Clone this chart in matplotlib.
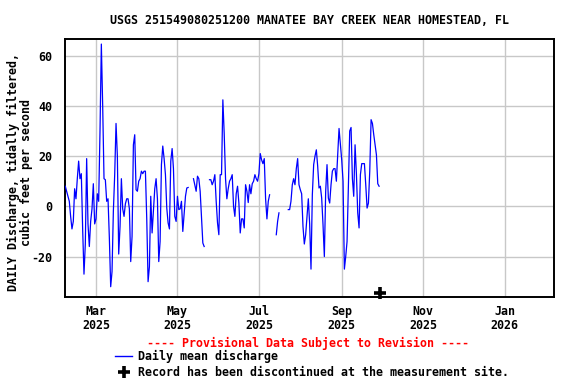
import matplotlib
matplotlib.use("Agg")
import matplotlib.pyplot as plt
import matplotlib.dates as mdates
from matplotlib.lines import Line2D
import numpy as np
import pandas as pd

nan = np.nan

# ---- data -------------------------------------------------------------
start_date = "2025-02-06"
discharge_cfs = [
    8, 6, 4, 2, -4, -9, -6, 7, 3, 11,
    18, 11, 13, -9, -27, -15, 19, -7, -16, -6,
    -1, 9, -7, -5, 5, 2, 30, 64.6, 40, 11,
    10.6, 2, 3, -12.6, -32, -26, -2, 12.6, 33, 20,
    -19, -8, 11, -1, -4, 1, 3, 3, -1, -22,
    -12, 24.5, 28.5, 6.6, 6, 10, 11, 14, 13, 14,
    14, -5, -30, -24, 4, -10.6, -2, 7, 11, 3,
    -22, -14, 16.6, 24, 19, 12.6, -0.7, -6.6, -9, 18,
    23, 15, -4, -6, 4, -1.3, -1, 2, -10, -3,
    4, 7.3, 7.5, nan, nan, nan, 11, 8.6, 6, 12,
    11, 6, -4.6, -14.6, -16, nan, nan, nan, 10.6, 10.6,
    8.6, 10, 12.6, 2, -6.6, -11.3, 12.6, 12.6, 42.4, 29,
    11, 3, 7, 10, 11, 12.6, 0, -4, 5, 8,
    1.3, -10.6, -5, -5, -8.6, 8.6, 6, 1.5, 8.6, 5,
    9, 10, 12.6, 11, 10, 13, 21, 18.5, 17, 19,
    3, -5, 2, 4.6, nan, nan, nan, nan, -11.3, -6,
    -2.6, nan, nan, nan, nan, nan, nan, -1.3, -1.3, 2,
    8.6, 11, 8.6, 15, 19, 8.6, 6.6, 5, -8, -15,
    -11.3, -4, 3, -7, -25, 4.6, 16.6, 20, 22.5, 16,
    7.3, 8, 3.3, -7.3, -20, 6, 16.6, 3.3, 1.3, 8.6,
    14, 15, 15, 10, 20.5, 31, 24.5, 18.5, 10, -25,
    -20, -14, 8.6, 30, 31.4, 11, 4, 24.5, 13, -2.6,
    -8.6, 12.6, 17, 17, 17, 8.6, -0.7, 1.3, 14, 34.5,
    33, 28.5, 24.5, 20.5, 9, 8,
]
discontinued_date = "2025-09-30"
discontinued_value = -34.6

tick_dates = ["2025-03-01", "2025-05-01", "2025-07-01", "2025-09-01", "2025-11-01", "2026-01-01"]
tick_labels = ["Mar\n2025", "May\n2025", "Jul\n2025", "Sep\n2025", "Nov\n2025", "Jan\n2026"]
y_ticks = [-20, 0, 20, 40, 60]

title = "USGS 251549080251200 MANATEE BAY CREEK NEAR HOMESTEAD, FL"
ylabel_lines = ["DAILY Discharge, tidally filtered,", "cubic feet per second"]

# ---- figure -----------------------------------------------------------
W, H = 576, 384
FONT = "DejaVu Sans Mono"
FS = 8.35
fig = plt.figure(figsize=(W / 100, H / 100), dpi=100)
L, R, T, B = 64.7, 554.3, 39.3, 297.0
ax = fig.add_axes([L / W, 1 - B / H, (R - L) / W, (B - T) / H])

dates = pd.date_range(start_date, periods=len(discharge_cfs), freq="D")
ax.plot(dates, discharge_cfs, color="#0000ff", lw=0.9, zorder=3)
ax.plot([pd.Timestamp(discontinued_date)], [discontinued_value], marker="+",
        ms=9, mew=2.6, color="black", linestyle="none", clip_on=False, zorder=4)

mar1 = mdates.date2num(pd.Timestamp("2025-03-01"))
ax.set_xlim(mar1 - 23.44, mar1 + 343.2)
ax.set_ylim(-36.1, 66.5)

ax.set_xticks([pd.Timestamp(d) for d in tick_dates])
ax.set_xticklabels(tick_labels, fontfamily=FONT, fontweight="bold", fontsize=FS, linespacing=1.1)
ax.set_yticks(y_ticks)
ax.set_yticklabels([str(v) for v in y_ticks], fontfamily=FONT, fontweight="bold", fontsize=FS)
ax.tick_params(axis="x", length=0, pad=6)
ax.tick_params(axis="y", length=0, pad=9)
ax.grid(True, color="#c8c8c8", lw=1.0, zorder=0)
ax.set_axisbelow(True)
for s in ax.spines.values():
    s.set_linewidth(1.4)
    s.set_color("black")

fig.text(309 / W, 1 - 20 / H, title, ha="center", va="center",
         fontfamily=FONT, fontweight="bold", fontsize=FS)
for xpix, line in zip([13, 26.5], ylabel_lines):
    fig.text(xpix / W, 1 - 172 / H, line, ha="center", va="center", rotation=90,
             fontfamily=FONT, fontweight="bold", fontsize=FS)

fig.text(308 / W, 1 - 343 / H, "---- Provisional Data Subject to Revision ----",
         ha="center", va="center", color="red",
         fontfamily=FONT, fontweight="bold", fontsize=FS)
fig.add_artist(Line2D([115 / W, 132 / W], [1 - 356 / H, 1 - 356 / H],
                      color="#0000ff", lw=1.0, transform=fig.transFigure))
fig.text(138 / W, 1 - 356 / H, "Daily mean discharge", ha="left", va="center",
         fontfamily=FONT, fontweight="bold", fontsize=FS)
fig.add_artist(Line2D([124 / W], [1 - 372 / H], marker="+", ms=9, mew=2.6,
                      color="black", linestyle="none", transform=fig.transFigure))
fig.text(138 / W, 1 - 372 / H, "Record has been discontinued at the measurement site.",
         ha="left", va="center", fontfamily=FONT, fontweight="bold", fontsize=FS)

fig.savefig("out.png", dpi=100)
